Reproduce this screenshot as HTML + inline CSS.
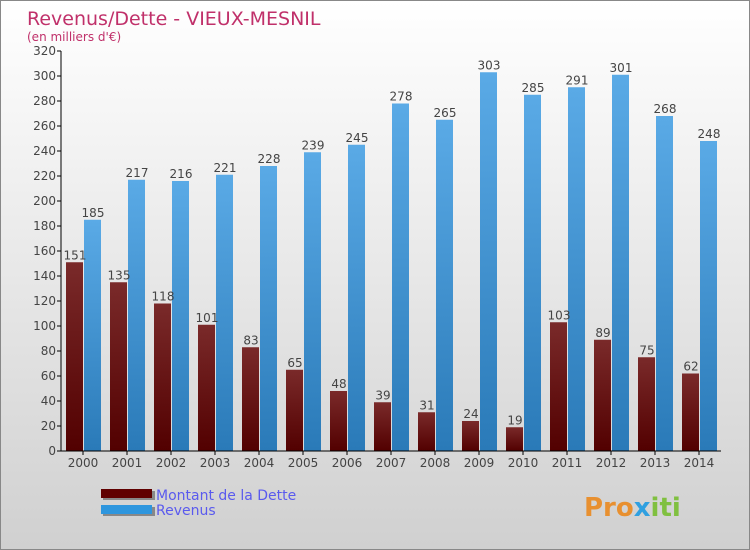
<!DOCTYPE html>
<html><head><meta charset="utf-8"><style>
body{margin:0}
#c{width:750px;height:550px;position:relative;background:linear-gradient(#ffffff,#d0d0d0);font-family:"DejaVu Sans","Liberation Sans",sans-serif;overflow:hidden;border:1px solid #888;box-sizing:border-box}
</style></head><body>
<div id="c">
<svg width="750" height="550" id="svg">
<defs>
<linearGradient id="gd" x1="0" y1="0" x2="0" y2="1"><stop offset="0" stop-color="#7a2a2a"/><stop offset="1" stop-color="#520000"/></linearGradient>
<linearGradient id="gr" x1="0" y1="0" x2="0" y2="1"><stop offset="0" stop-color="#5aaae6"/><stop offset="1" stop-color="#2a7ab8"/></linearGradient>
</defs>
<text x="26" y="24" font-size="19" fill="#c0306a">Revenus/Dette - VIEUX-MESNIL</text>
<text x="26" y="40" font-size="12" fill="#c0306a">(en milliers d'€)</text>
<g id="g"></g>
<rect x="102" y="490" width="52" height="9" fill="#888"/>
<rect x="100" y="488" width="51" height="9" fill="#600000"/>
<rect x="102" y="506" width="52" height="9" fill="#888"/>
<rect x="100" y="504" width="51" height="9" fill="#2e96de"/>
<text x="155" y="499" font-size="14" fill="#5a5aee">Montant de la Dette</text>
<text x="155" y="514" font-size="14" fill="#5a5aee">Revenus</text>
<text x="583" y="515" font-size="26" font-weight="bold" fill="#e89030">Pro<tspan fill="#30a0e0">x</tspan><tspan fill="#80c040">iti</tspan></text>
</svg>
</div>
<script>
const years=["2000","2001","2002","2003","2004","2005","2006","2007","2008","2009","2010","2011","2012","2013","2014"];
const dette=[151,135,118,101,83,65,48,39,31,24,19,103,89,75,62];
const revenus=[185,217,216,221,228,239,245,278,265,303,285,291,301,268,248];
const yTicks=[0,20,40,60,80,100,120,140,160,180,200,220,240,260,280,300,320];
const NS="http://www.w3.org/2000/svg";
const g=document.getElementById('g');
const x0=60,step=44,y0=450,yMax=320,h=400;
const yS=v=>y0-v/yMax*h;
const xC=i=>x0+22+step*i;
function mk(t,a){const e=document.createElementNS(NS,t);for(const k in a)e.setAttribute(k,a[k]);g.appendChild(e);return e;}
yTicks.forEach(v=>{
 const l=mk('line',{x1:x0-4,x2:x0,y1:yS(v),y2:yS(v),stroke:'#000'});
 
 
 const t=mk('text',{x:x0-5,y:yS(v)+4,'font-size':12,fill:'#444','text-anchor':'end'});t.textContent=v;
 
 
});
years.forEach((yr,i)=>{
 const c=xC(i);
 const d=mk('rect',{x:c-17,y:yS(dette[i]),width:17,height:y0-yS(dette[i]),fill:'url(#gd)'});
 
 
 const r=mk('rect',{x:c+1,y:yS(revenus[i]),width:17,height:y0-yS(revenus[i]),fill:'url(#gr)'});
 
 
 const td=mk('text',{x:c-8,y:yS(dette[i])-3,'font-size':12,fill:'#444','text-anchor':'middle'});td.textContent=dette[i];
 
 
 const tr=mk('text',{x:c+10,y:yS(revenus[i])-3,'font-size':12,fill:'#444','text-anchor':'middle'});tr.textContent=revenus[i];
 
 
 const tk=mk('line',{x1:c,x2:c,y1:y0,y2:y0+4,stroke:'#000'});
 
 
 const tl=mk('text',{x:c,y:y0+16,'font-size':12,fill:'#444','text-anchor':'middle'});tl.textContent=yr;
 
 
});
const ya=mk('line',{x1:x0,x2:x0,y1:yS(320),y2:y0,stroke:'#000'});


const xa=mk('line',{x1:x0,x2:x0+15*step,y1:y0,y2:y0,stroke:'#000'});


</script>
</body></html>
